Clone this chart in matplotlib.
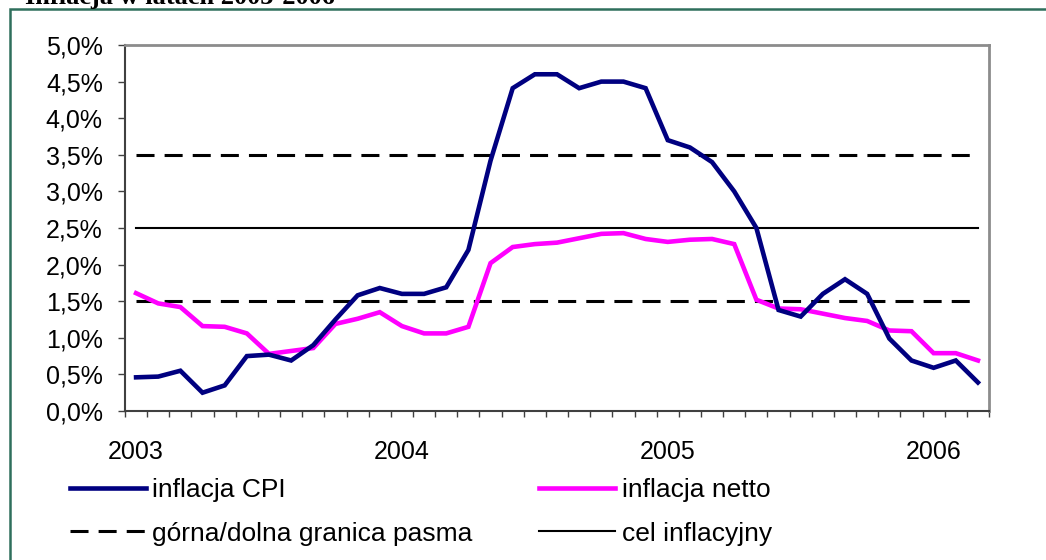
import matplotlib
matplotlib.use("Agg")
import matplotlib.pyplot as plt
from matplotlib.patches import Rectangle
import pandas as pd

# monthly data, Jan 2003 - Mar 2006 (y/y, %)
months = pd.period_range("2003-01", "2006-03", freq="M")
cpi = [0.46, 0.47, 0.55, 0.25, 0.35, 0.75, 0.77, 0.69, 0.90, 1.25, 1.58, 1.68,
       1.60, 1.60, 1.69, 2.20, 3.42, 4.41, 4.60, 4.60, 4.41, 4.50, 4.50, 4.41,
       3.70, 3.60, 3.40, 3.00, 2.50, 1.38, 1.29, 1.60, 1.80, 1.60, 0.99, 0.69,
       0.59, 0.69, 0.39]
netto = [1.61, 1.47, 1.42, 1.16, 1.15, 1.06, 0.78, 0.82, 0.86, 1.19, 1.26, 1.35,
         1.16, 1.06, 1.06, 1.15, 2.02, 2.24, 2.28, 2.30, 2.36, 2.42, 2.43, 2.35,
         2.31, 2.34, 2.35, 2.28, 1.52, 1.40, 1.39, 1.33, 1.27, 1.23, 1.10, 1.09,
         0.79, 0.79, 0.69]
band_upper = 3.5
band_lower = 1.5
target = 2.5

y_ticks = [0.0, 0.5, 1.0, 1.5, 2.0, 2.5, 3.0, 3.5, 4.0, 4.5, 5.0]
title = "Inflacja w latach 2003-2006"

plt.rcParams["font.family"] = ["Liberation Sans", "DejaVu Sans"]

fig = plt.figure(figsize=(10.46, 5.6), dpi=100)
ax = fig.add_axes([125 / 1046, 1 - 411 / 560, 864 / 1046, 366 / 560])

x = list(range(len(months)))
n = len(x)

ax.plot(x, cpi, color="#000080", lw=3.3, solid_joinstyle="miter",
        label="inflacja CPI", zorder=4)
ax.plot(x, netto, color="#ff00ff", lw=3.3, solid_joinstyle="miter",
        label="inflacja netto", zorder=3)
ax.plot(x, [band_upper] * n, color="black", lw=2.2, dashes=(5.9, 3.3),
        label="górna/dolna granica pasma", zorder=2)
ax.plot(x, [band_lower] * n, color="black", lw=2.2, dashes=(5.9, 3.3), zorder=2)
ax.plot(x, [target] * n, color="black", lw=1.5,
        label="cel inflacyjny", zorder=2)

ax.set_xlim(-0.5, n - 0.5)
ax.set_ylim(0, 5)

# y axis
ax.set_yticks(y_ticks)
ax.set_yticklabels([f"{v:.1f}%".replace(".", ",") for v in y_ticks])
ax.tick_params(axis="y", direction="out", length=5, width=1,
               color="#404040", labelsize=18, pad=11)

# x axis: ticks at category borders, year labels under January
ax.set_xticks([i - 0.5 for i in range(n + 1)])
ax.set_xticklabels([])
ax.tick_params(axis="x", which="major", direction="out", length=4.5,
               width=1, color="#404040")
jan_idx = [i for i, m in enumerate(months) if m.month == 1]
ax.set_xticks(jan_idx, minor=True)
ax.set_xticklabels([str(months[i].year) for i in jan_idx], minor=True)
ax.tick_params(axis="x", which="minor", length=0, labelsize=18, pad=21)

for side in ("left", "bottom"):
    ax.spines[side].set_color("#404040")
    ax.spines[side].set_linewidth(1.5)
for side in ("top", "right"):
    ax.spines[side].set_color("#8c8c8c")
    ax.spines[side].set_linewidth(2)

handles, labels = ax.get_legend_handles_labels()
order = [0, 2, 1, 3]
fig.legend([handles[i] for i in order], [labels[i] for i in order],
           loc="upper left", bbox_to_anchor=(70 / 1046, 1 - 478 / 560),
           ncol=2, frameon=False, fontsize=19, handlelength=2.88,
           handletextpad=0.23, columnspacing=2.54, labelspacing=0.74,
           borderpad=0, borderaxespad=0)

# outer frame and the clipped heading above it
fig.add_artist(Rectangle((10 / 1046, -0.1), 1.2, 1 - 9 / 560 + 0.1,
                         transform=fig.transFigure, fill=False,
                         edgecolor="#2f6f5c", lw=1.8))
fig.text(25 / 1046, 1 - 4 / 560, title, fontsize=19, fontweight="bold",
         family="Liberation Serif", va="baseline", ha="left")

fig.savefig("out.png", dpi=100)
